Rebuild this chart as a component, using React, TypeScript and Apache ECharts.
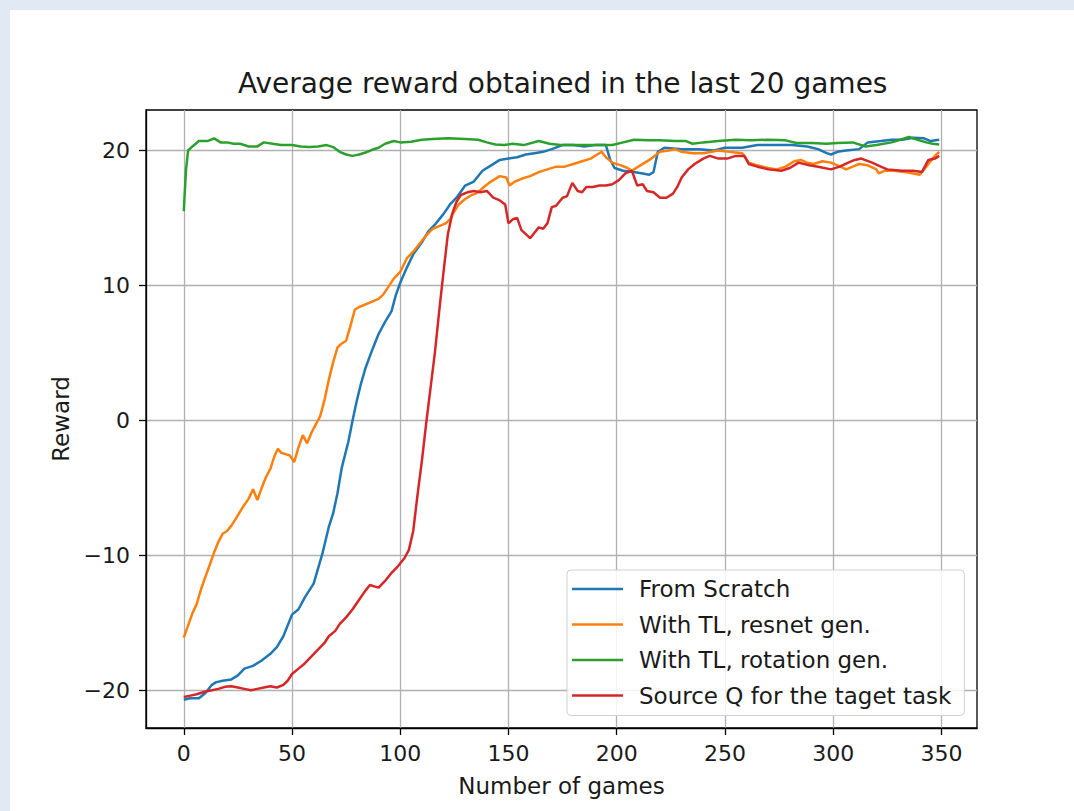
import React, { useEffect, useRef } from "react";
import * as echarts from "echarts";

const titleText = "Average reward obtained in the last 20 games";
const xName = "Number of games";
const yName = "Reward";
const xTicks = [0, 50, 100, 150, 200, 250, 300, 350];
const yTicks = [-20, -10, 0, 10, 20];
const seriesNames = [
  "From Scratch",
  "With TL, resnet gen.",
  "With TL, rotation gen.",
  "Source Q for the taget task",
];
const colors = ["#1f77b4", "#ff7f0e", "#2ca02c", "#d62728"];

const scratchData = [
  [0, -20.7], [3, -20.6], [7, -20.6], [10, -20.2], [13, -19.6], [15, -19.4], [18, -19.3], [22, -19.2],
  [25, -18.9], [28, -18.4], [32, -18.2], [36, -17.8], [40, -17.3], [43, -16.8], [46, -16.0], [50, -14.4],
  [53, -14.0], [56, -13.1], [60, -12.1], [64, -9.9], [67, -7.9], [69, -6.9], [71, -5.4], [73, -3.5],
  [76, -1.6], [78, 0], [80, 1.5], [82, 2.8], [84, 3.9], [87, 5.2], [90, 6.4], [93, 7.3], [96, 8.1],
  [98, 9.3], [100, 10.2], [103, 11.3], [106, 12.3], [110, 13.2], [113, 14.0], [116, 14.5], [120, 15.3],
  [123, 16.0], [126, 16.5], [130, 17.4], [134, 17.7], [138, 18.5], [142, 18.9], [146, 19.3], [150, 19.4],
  [154, 19.5], [158, 19.7], [162, 19.8], [166, 19.9], [170, 20.1], [175, 20.4], [180, 20.4], [185, 20.3],
  [190, 20.4], [195, 20.4], [197, 19.3], [199, 18.7], [203, 18.5], [208, 18.4], [212, 18.3], [215, 18.2],
  [217, 18.4], [219, 19.9], [222, 20.2], [230, 20.1], [238, 20.1], [245, 20.0], [250, 20.2], [258, 20.2],
  [265, 20.4], [272, 20.4], [281, 20.4], [288, 20.3], [293, 20.1], [297, 19.8], [299, 19.7], [302, 19.9],
  [306, 20.0], [312, 20.1], [316, 20.6], [322, 20.7], [327, 20.8], [332, 20.8], [337, 20.95], [342, 20.9],
  [345, 20.7], [349, 20.8],
];

const resnetData = [
  [0, -16.1], [2, -15.2], [4, -14.3], [6, -13.6], [8, -12.5], [10, -11.6], [12, -10.7], [14, -9.8],
  [16, -9.0], [18, -8.4], [20, -8.2], [22, -7.8], [24, -7.3], [27, -6.5], [30, -5.8], [32, -5.1],
  [34, -5.9], [36, -5.0], [38, -4.2], [40, -3.6], [42, -2.6], [43.5, -2.1], [45, -2.4], [47, -2.5],
  [49, -2.6], [51, -3.1], [53, -2.0], [55, -1.1], [57, -1.7], [59, -0.9], [61, -0.3], [63, 0.3],
  [65, 1.5], [67, 3.0], [69, 4.3], [71, 5.4], [73, 5.7], [75, 5.9], [77, 7.0], [79, 8.2], [81, 8.4],
  [84, 8.6], [87, 8.8], [90, 9.0], [92, 9.3], [95, 10.0], [97, 10.5], [100, 11.0], [103, 12.0],
  [106, 12.5], [109, 13.1], [112, 13.7], [115, 14.2], [118, 14.4], [121, 14.6], [123, 14.9], [125, 15.5],
  [127, 16.0], [130, 16.4], [133, 16.7], [135, 16.8], [138, 17.2], [141, 17.6], [143, 17.8], [146, 18.1],
  [149, 18.0], [150.5, 17.4], [153, 17.7], [156, 17.9], [160, 18.1], [164, 18.4], [168, 18.6], [172, 18.8],
  [176, 18.8], [180, 19.0], [184, 19.2], [188, 19.4], [191, 19.7], [193, 19.9], [195, 19.5], [198, 19.1],
  [202, 18.9], [205, 18.7], [207, 18.5], [210, 18.8], [213, 19.1], [216, 19.4], [220, 19.9], [224, 20.0],
  [227, 20.1], [230, 19.9], [235, 19.8], [240, 19.8], [247, 20.0], [252, 19.9], [258, 19.8], [261, 19.1],
  [265, 18.9], [270, 18.7], [274, 18.6], [278, 18.8], [282, 19.2], [285, 19.3], [288, 19.1], [291, 19.0],
  [295, 19.2], [299, 19.1], [302, 18.9], [306, 18.6], [309, 18.8], [312, 19.0], [316, 18.9], [320, 18.6],
  [321, 18.3], [324, 18.5], [328, 18.5], [333, 18.4], [337, 18.3], [340, 18.2], [343, 18.8], [345, 19.2],
  [347, 19.6], [349, 19.9],
];

const rotationData = [
  [0, 15.5], [1, 18.5], [2, 20.0], [4, 20.3], [7, 20.7], [11, 20.7], [14, 20.9], [17, 20.6], [20, 20.6],
  [23, 20.5], [26, 20.5], [30, 20.3], [34, 20.3], [37, 20.6], [41, 20.5], [45, 20.4], [50, 20.4],
  [54, 20.3], [58, 20.25], [62, 20.3], [66, 20.4], [69, 20.25], [72, 19.9], [75, 19.7], [78, 19.6],
  [81, 19.7], [84, 19.85], [87, 20.05], [90, 20.2], [93, 20.5], [97, 20.7], [100, 20.6], [105, 20.65],
  [110, 20.8], [115, 20.85], [122, 20.9], [130, 20.85], [136, 20.8], [140, 20.6], [144, 20.45], [148, 20.4],
  [152, 20.5], [157, 20.4], [164, 20.7], [169, 20.5], [174, 20.4], [180, 20.4], [186, 20.4], [192, 20.4],
  [198, 20.4], [203, 20.6], [208, 20.8], [215, 20.75], [220, 20.75], [227, 20.7], [232, 20.7], [235, 20.5],
  [240, 20.6], [247, 20.7], [255, 20.8], [262, 20.75], [270, 20.8], [278, 20.75], [283, 20.55], [290, 20.55],
  [297, 20.5], [302, 20.55], [309, 20.6], [315, 20.3], [320, 20.4], [327, 20.6], [331, 20.8], [335, 21.0],
  [339, 20.8], [343, 20.6], [346, 20.5], [349, 20.45],
];

const sourceQData = [
  [0, -20.5], [3, -20.4], [6, -20.3], [10, -20.1], [13, -20.0], [16, -19.9], [19, -19.75], [22, -19.7],
  [25, -19.8], [28, -19.9], [31, -20.0], [34, -19.9], [37, -19.8], [40, -19.7], [43, -19.8], [46, -19.6],
  [48, -19.3], [50, -18.8], [53, -18.4], [56, -18.0], [59, -17.5], [62, -17.0], [65, -16.5], [67, -16.0],
  [70, -15.6], [72, -15.1], [75, -14.6], [78, -14.0], [81, -13.3], [84, -12.6], [86, -12.2], [88, -12.3],
  [90, -12.4], [93, -11.9], [96, -11.3], [99, -10.8], [102, -10.2], [104, -9.6], [106, -8.2], [108, -5.5],
  [110, -3.0], [112, -0.2], [114, 2.4], [116, 5.0], [118, 8.1], [120, 11.0], [122, 13.8], [124, 15.3],
  [126, 16.2], [128, 16.7], [131, 16.9], [134, 17.0], [137, 16.9], [140, 17.0], [143, 16.5], [146, 16.3],
  [148.5, 16.0], [150, 14.6], [152, 14.9], [154, 15.0], [156, 14.1], [158, 13.8], [160, 13.5], [162, 13.9],
  [164, 14.3], [166, 14.2], [168, 14.6], [170, 15.8], [172, 15.9], [175, 16.5], [177, 16.6], [179.5, 17.6],
  [182, 17.0], [184, 16.9], [186, 17.3], [189, 17.3], [192, 17.4], [195, 17.4], [198, 17.5], [201, 17.8],
  [204, 18.3], [207, 18.5], [209.5, 17.4], [212, 17.5], [214, 17.0], [217, 16.9], [220, 16.5], [223, 16.5],
  [226, 16.8], [228, 17.3], [230, 18.0], [233, 18.6], [236, 19.0], [240, 19.4], [243, 19.6], [247, 19.4],
  [251, 19.4], [255, 19.6], [259, 19.6], [261, 19.0], [265, 18.8], [270, 18.6], [276, 18.5], [280, 18.7],
  [284, 19.1], [289, 18.9], [293, 18.8], [299, 18.6], [303, 18.8], [307, 19.1], [310, 19.3], [313, 19.4],
  [318, 19.1], [322, 18.8], [325, 18.6], [332, 18.5], [337, 18.5], [341, 18.4], [344, 19.3], [347, 19.4],
  [349, 19.6],
];

const allData = [scratchData, resnetData, rotationData, sourceQData];

const FONT = "DejaVu Sans";
const TEXT = "#1a1a1a";

export default function App() {
  const ref = useRef<HTMLDivElement>(null);
  useEffect(() => {
    const chart = echarts.init(ref.current!, null, { renderer: "svg" });
    chart.setOption({
      animation: false,
      backgroundColor: "#ffffff",
      textStyle: { fontFamily: FONT },
      graphic: [
        { type: "rect", z: -10, silent: true, shape: { x: 0, y: 0, width: 1074, height: 10 }, style: { fill: "#e1e9f4" } },
        { type: "rect", z: -10, silent: true, shape: { x: 0, y: 0, width: 10, height: 811 }, style: { fill: "#e1e9f4" } },
      ],
      title: {
        text: titleText,
        left: 238,
        top: 69,
        padding: 0,
        textStyle: { fontFamily: FONT, fontSize: 28, fontWeight: "normal", color: TEXT },
      },
      grid: {
        left: 146,
        top: 110,
        right: 97,
        bottom: 83,
        show: true,
        borderColor: "#000",
        borderWidth: 1.3,
        backgroundColor: "transparent",
      },
      legend: {
        orient: "vertical",
        left: 567,
        top: 570,
        padding: [6, 13, 7, 5],
        icon: "rect",
        itemWidth: 51,
        itemHeight: 2.6,
        itemGap: 9.5,
        backgroundColor: "rgba(255,255,255,0.85)",
        borderColor: "#d0d0d0",
        borderWidth: 1,
        borderRadius: 4,
        textStyle: { fontFamily: FONT, fontSize: 23, color: TEXT, lineHeight: 26, padding: [0, 0, 0, 11] },
        data: seriesNames,
      },
      xAxis: {
        type: "value",
        min: -17.45,
        max: 366.45,
        name: xName,
        nameLocation: "middle",
        nameGap: 46,
        nameTextStyle: { fontFamily: FONT, fontSize: 23, color: TEXT },
        axisLine: { show: true, onZero: false, lineStyle: { color: "#000", width: 1.3 } },
        axisTick: { show: true, customValues: xTicks, length: 7, lineStyle: { color: "#000", width: 1.3 } },
        axisLabel: { customValues: xTicks, fontFamily: FONT, fontSize: 22, color: TEXT, margin: 14 },
        splitLine: { show: true, lineStyle: { color: "#b0b0b0", width: 1.3 } },
      },
      yAxis: {
        type: "value",
        min: -22.8,
        max: 23.0,
        name: yName,
        nameLocation: "middle",
        nameRotate: 90,
        nameGap: 74,
        nameTextStyle: { fontFamily: FONT, fontSize: 23, color: TEXT },
        axisLine: { show: true, onZero: false, lineStyle: { color: "#000", width: 1.3 } },
        axisTick: { show: true, customValues: yTicks, length: 7, lineStyle: { color: "#000", width: 1.3 } },
        axisLabel: {
          customValues: yTicks,
          fontFamily: FONT,
          fontSize: 22,
          color: TEXT,
          margin: 16,
          formatter: (v: number) => String(v).replace("-", "\u2212"),
        },
        splitLine: { show: true, lineStyle: { color: "#b0b0b0", width: 1.3 } },
      },
      series: seriesNames.map((name, i) => ({
        name,
        type: "line",
        data: allData[i],
        symbol: "none",
        showSymbol: false,
        color: colors[i],
        lineStyle: { color: colors[i], width: 2.5 },
        z: 2 + i,
      })),
    });
    return () => chart.dispose();
  }, []);
  return (
    <div
      ref={ref}
      style={{ position: "fixed", left: 0, top: 0, width: 1074, height: 811, background: "#fff" }}
    />
  );
}
